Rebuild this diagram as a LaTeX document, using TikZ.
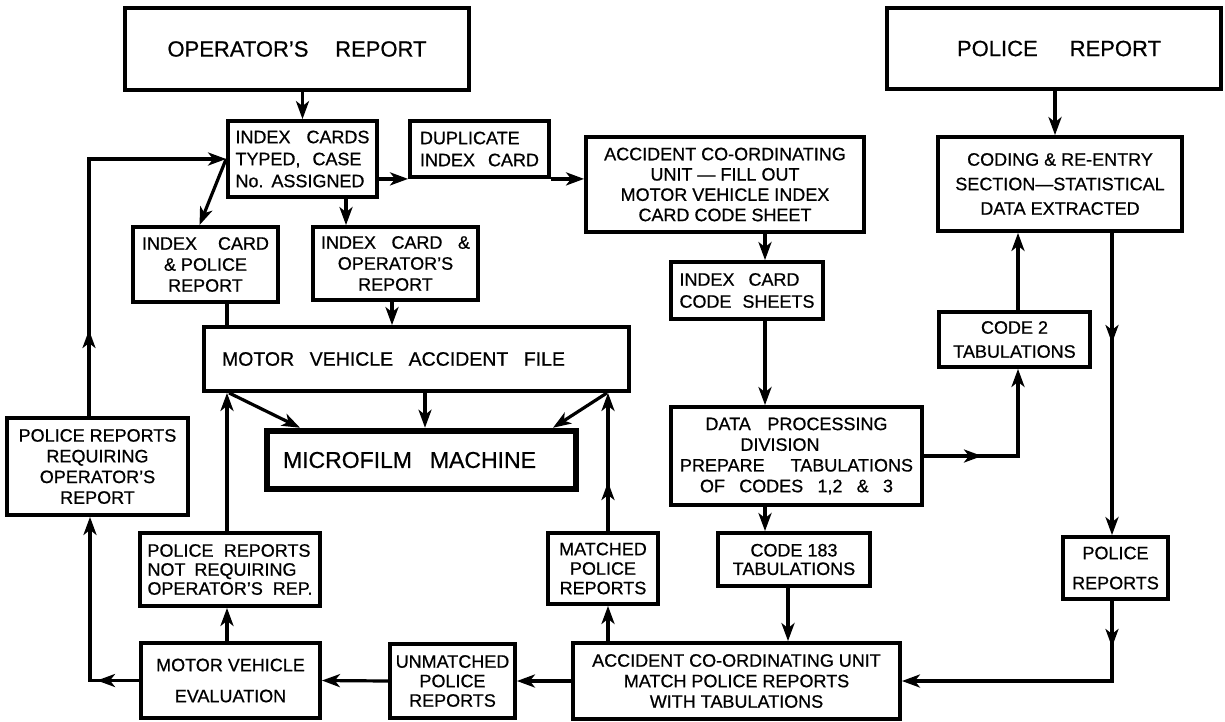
\documentclass[tikz,border=0pt]{standalone}
\usepackage{fontspec}
\setmainfont{Liberation Sans}[FakeBold=0.7]
\usetikzlibrary{arrows.meta,calc}
\newcommand\fsz[2]{\fontsize{#1}{#2}\selectfont}
\begin{document}
\begin{tikzpicture}[x=1pt,y=-1pt,
  box/.style={draw,line width=3.8pt,inner sep=0pt,align=center,font=\fsz{18}{21}},
  lbox/.style={box,align=left},
  conn/.style={line width=3.2pt},
  arr/.style={conn,-{Stealth[length=18pt,width=13pt,inset=5pt]}}]
\useasboundingbox (0,0) rectangle (1225,721);
% top row
\node[box,minimum width=344pt,minimum height=82pt,font=\fsz{22}{26}] (opr) at (297,49) {\makebox[259pt][s]{OPERATOR'S REPORT}};
\node[box,minimum width=334pt,minimum height=81pt,font=\fsz{22}{26}] (pol) at (1054,48.5) {\makebox[214pt][r]{\makebox[204pt][s]{POLICE REPORT}}};
\node[lbox,minimum width=149pt,minimum height=76pt,font=\fsz{18}{22}] (idx) at (302.5,159) {\makebox[134pt][s]{INDEX CARDS}\\\makebox[126pt][s]{TYPED, CASE}\\\makebox[129pt][s]{No. ASSIGNED}};
\node[lbox,minimum width=139pt,minimum height=56pt,font=\fsz{18}{22}] (dup) at (479.5,149) {DUPLICATE\\\makebox[119pt][s]{INDEX CARD}};
\node[box,minimum width=278pt,minimum height=95pt,font=\fsz{18}{20.3}] (acc1) at (725,184.5) {ACCIDENT CO-ORDINATING\\UNIT --- FILL OUT\\MOTOR VEHICLE INDEX\\CARD CODE SHEET};
\node[box,minimum width=244pt,minimum height=94pt,font=\fsz{18}{24.5}] (cod) at (1060,184) {CODING \& RE-ENTRY\\SECTION---STATISTICAL\\DATA EXTRACTED};
\node[box,minimum width=145pt,minimum height=75pt] (icp) at (205.5,264.5) {\makebox[127pt][s]{INDEX CARD}\\\& POLICE\\REPORT};
\node[box,minimum width=165pt,minimum height=73pt] (ico) at (395.5,263.5) {\makebox[149pt][s]{INDEX CARD \&}\\OPERATOR'S\\REPORT};
\node[lbox,minimum width=152pt,minimum height=57pt,font=\fsz{18}{22}] (ics) at (747,290.5) {\makebox[120pt][s]{INDEX CARD}\\\makebox[135pt][s]{CODE SHEETS}};
\node[box,minimum width=151pt,minimum height=55pt,font=\fsz{18}{24}] (cd2) at (1014.5,339.5) {CODE 2\\TABULATIONS};
% middle
\node[box,minimum width=425pt,minimum height=64pt,font=\fsz{19.5}{23}] (mvf) at (416.5,359) {\makebox[389pt][l]{\makebox[343pt][s]{MOTOR VEHICLE ACCIDENT FILE}}};
\node[box,line width=6.5pt,minimum width=309pt,minimum height=58pt,font=\fsz{23}{27}] (mic) at (421.5,460) {\makebox[277pt][l]{\makebox[253pt][s]{MICROFILM MACHINE}}};
\node[box,minimum width=251pt,minimum height=98pt,font=\fsz{18}{20.7}] (dp) at (796.5,456) {\makebox[182pt][s]{DATA PROCESSING}\\\makebox[112pt][l]{DIVISION}\\\makebox[233pt][s]{PREPARE TABULATIONS}\\\makebox[193pt][s]{OF CODES 1,2 \& 3}};
\node[box,minimum width=181pt,minimum height=97pt,font=\fsz{18}{20.7}] (req) at (97.5,466.5) {POLICE REPORTS\\REQUIRING\\OPERATOR'S\\REPORT};
\node[lbox,minimum width=180pt,minimum height=73pt,font=\fsz{18}{19}] (nrq) at (230,569.5) {\makebox[163pt][s]{POLICE REPORTS}\\\makebox[149pt][s]{NOT REQUIRING}\\\makebox[165pt][s]{OPERATOR'S REP.}};
\node[box,minimum width=110pt,minimum height=71pt,font=\fsz{18}{19.5}] (mat) at (603,568.5) {MATCHED\\POLICE\\REPORTS};
\node[box,minimum width=152pt,minimum height=53pt,font=\fsz{18}{18.5}] (c183) at (794,559.5) {CODE 183\\TABULATIONS};
\node[box,minimum width=105pt,minimum height=62pt,font=\fsz{18}{30}] (prs) at (1115.5,568) {POLICE\\REPORTS};
% bottom row
\node[box,minimum width=179pt,minimum height=75pt,font=\fsz{18}{31}] (eval) at (230.5,680.5) {MOTOR VEHICLE\\EVALUATION};
\node[box,minimum width=125pt,minimum height=74pt,font=\fsz{18}{19.5}] (unm) at (452.5,681) {UNMATCHED\\POLICE\\REPORTS};
\node[box,minimum width=327pt,minimum height=76pt,font=\fsz{18}{20.5}] (am) at (736.5,681) {ACCIDENT CO-ORDINATING UNIT\\MATCH POLICE REPORTS\\WITH TABULATIONS};
% connectors
\draw[arr] (idx.north |- opr.south) -- (idx.north);
\draw[arr] (idx.east |- dup.south west) -- (dup.south west);
\draw[arr] (dup.south east) -- (acc1.west |- dup.south east);
\draw[arr] (idx.west) -- (icp.north -| 199.5,0);
\draw[arr] (idx.south -| 346,0) -- (ico.north -| 346,0);
\draw[conn] (icp.south -| 227,0) -- (mvf.north -| 227,0);
\draw[arr] (ico.south -| 392,0) -- (mvf.north -| 392,0);
\draw[arr] (acc1.south -| 765,0) -- (ics.north -| 765,0);
\draw[arr] (ics.south -| 765,0) -- (dp.north -| 765,0);
\draw[arr] (dp.south -| 765,0) -- (c183.north -| 765,0);
\draw[arr] (c183.south -| 788,0) -- (am.north -| 788,0);
\draw[arr] (pol.south -| 1055,0) -- (cod.north -| 1055,0);
\draw[arr] (cod.south -| 1112,0) -- (prs.north -| 1112,0);
\draw[arr] (cod.south -| 1112,0) -- (1112,343);
\draw[arr] (prs.south -| 1112,0) |- (am.east);
\draw[arr] (prs.south -| 1112,0) -- (1112,647);
\draw[arr] (dp.east) -| (cd2.south -| 1018,0);
\draw[arr] (dp.east) -- (982,456);
\draw[arr] (cd2.north -| 1018,0) -- (cod.south -| 1018,0);
\draw[arr] (mvf.south -| 229,0) -- (mic.north -| 300,0);
\draw[arr] (mvf.south -| 425,0) -- (mic.north -| 425,0);
\draw[arr] (mvf.south -| 607,0) -- (mic.north -| 553,0);
\draw[arr] (am.north -| 608,0) -- (mat.south -| 608,0);
\draw[arr] (mat.north -| 608,0) -- (mvf.south -| 608,0);
\draw[arr] (mat.north -| 608,0) -- (608,482);
\draw[arr] (am.west) -- (unm.east);
\draw[arr] (unm.west) -- (eval.east);
\draw[arr] (eval.west) -| (req.south -| 90,0);
\draw[arr] (eval.west) -- (97,680.5);
\draw[arr] (eval.north -| 227,0) -- (nrq.south -| 227,0);
\draw[arr] (nrq.north -| 227,0) -- (mvf.south -| 227,0);
\draw[arr] (req.north -| 89,0) |- (idx.west);
\draw[arr] (req.north -| 89,0) -- (89,330);
\end{tikzpicture}
\end{document}
